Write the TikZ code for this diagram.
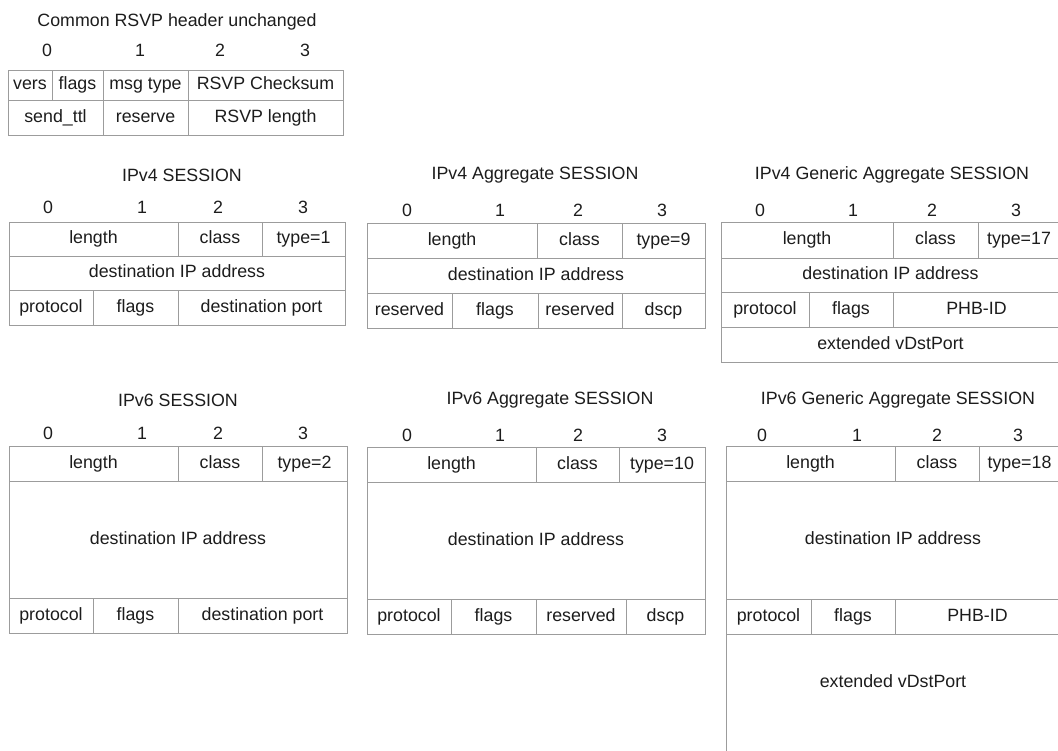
\documentclass[tikz,border=0pt]{standalone}
\usepackage{fontspec}
\setmainfont{Liberation Sans}
\begin{document}
\begin{tikzpicture}[x=1pt,y=-1pt,
  cellbox/.style={draw=linegray, line width=0.9pt, inner sep=0pt, outer sep=0pt, text=txt, font=\fontsize{17.8}{20}\selectfont, text height=12.8pt, text depth=3.8pt},
  lbl/.style={inner sep=0pt, text=txt, font=\fontsize{17.8}{20}\selectfont, text height=12.8pt, text depth=3.8pt}]
\definecolor{linegray}{HTML}{9C9C9C}
\definecolor{txt}{HTML}{1C1C1C}
\useasboundingbox (0,0) rectangle (1058,750);
\clip (0,0) rectangle (1058,750);
\newcommand\cell[6]{\node[cellbox, minimum width={(#4-#2)*1pt}, minimum height={(#5-#3)*1pt}] (#1) at ({(#2+#4)/2},{(#3+#5)/2}) {#6};}
\newcommand\digits[6]{%
  \node[lbl] (#1d0) at (#2,#6) {0};
  \node[lbl] (#1d1) at (#3,#6) {1};
  \node[lbl] (#1d2) at (#4,#6) {2};
  \node[lbl] (#1d3) at (#5,#6) {3};}
% ---------- Common RSVP header ----------
\node[lbl] (htitle) at (177,22) {Common RSVP header unchanged};
\digits{h}{47}{140}{220}{305}{52}
\cell{hvers}{8}{70}{52}{100}{vers}
\cell{hflags}{52}{70}{103}{100}{flags}
\cell{hmsg}{103}{70}{188}{100}{msg type}
\cell{hck}{188}{70}{343}{100}{RSVP Checksum}
\cell{httl}{8}{100}{103}{135}{send\_ttl}
\cell{hres}{103}{100}{188}{135}{reserve}
\cell{hlen}{188}{100}{343}{135}{RSVP length}
% ---------- IPv4 SESSION ----------
\node[lbl] (atitle) at (182,177) {IPv4 SESSION};
\digits{a}{48}{142}{218}{303}{209}
\cell{alen}{9}{222}{178}{256}{length}
\cell{acls}{178}{222}{262}{256}{class}
\cell{atyp}{262}{222}{345}{256}{type=1}
\cell{adst}{9}{256}{345}{290}{destination IP address}
\cell{aprt}{9}{290}{93}{325}{protocol}
\cell{aflg}{93}{290}{178}{325}{flags}
\cell{aport}{178}{290}{345}{325}{destination port}
% ---------- IPv4 Aggregate SESSION ----------
\node[lbl] (btitle) at (535,175) {IPv4 Aggregate SESSION};
\digits{b}{407}{500}{578}{662}{212}
\cell{blen}{367}{223}{537}{258}{length}
\cell{bcls}{537}{223}{622}{258}{class}
\cell{btyp}{622}{223}{705}{258}{type=9}
\cell{bdst}{367}{258}{705}{293}{destination IP address}
\cell{bres1}{367}{293}{452}{328}{reserved}
\cell{bflg}{452}{293}{538}{328}{flags}
\cell{bres2}{538}{293}{622}{328}{reserved}
\cell{bdscp}{622}{293}{705}{328}{dscp}
% ---------- IPv4 Generic Aggregate SESSION ----------
\node[lbl] (ctitle) at (892,175) {IPv4 Generic Aggregate SESSION};
\digits{c}{760}{853}{932}{1016}{212}
\cell{clen}{721}{222}{893}{258}{length}
\cell{ccls}{893}{222}{978}{258}{class}
\cell{ctyp}{978}{222}{1060}{258}{type=17}
\cell{cdst}{721}{258}{1060}{292}{destination IP address}
\cell{cprt}{721}{292}{809}{327}{protocol}
\cell{cflg}{809}{292}{893}{327}{flags}
\cell{cphb}{893}{292}{1060}{327}{PHB-ID}
\cell{cext}{721}{327}{1060}{362}{extended vDstPort}
% ---------- IPv6 SESSION ----------
\node[lbl] (dtitle) at (178,402) {IPv6 SESSION};
\digits{d}{48}{142}{218}{303}{435}
\cell{dlen}{9}{446}{178}{481}{length}
\cell{dcls}{178}{446}{262}{481}{class}
\cell{dtyp}{262}{446}{347}{481}{type=2}
\cell{ddst}{9}{481}{347}{598}{destination IP address}
\cell{dprt}{9}{598}{93}{633}{protocol}
\cell{dflg}{93}{598}{178}{633}{flags}
\cell{dport}{178}{598}{347}{633}{destination port}
% ---------- IPv6 Aggregate SESSION ----------
\node[lbl] (etitle) at (550,400) {IPv6 Aggregate SESSION};
\digits{e}{407}{500}{578}{662}{437}
\cell{elen}{367}{447}{536}{482}{length}
\cell{ecls}{536}{447}{619}{482}{class}
\cell{etyp}{619}{447}{705}{482}{type=10}
\cell{edst}{367}{482}{705}{599}{destination IP address}
\cell{eprt}{367}{599}{451}{634}{protocol}
\cell{eflg}{451}{599}{536}{634}{flags}
\cell{eres}{536}{599}{626}{634}{reserved}
\cell{edscp}{626}{599}{705}{634}{dscp}
% ---------- IPv6 Generic Aggregate SESSION ----------
\node[lbl] (ftitle) at (898,400) {IPv6 Generic Aggregate SESSION};
\digits{f}{762}{857}{937}{1018}{437}
\cell{flen}{726}{446}{895}{481}{length}
\cell{fcls}{895}{446}{979}{481}{class}
\cell{ftyp}{979}{446}{1060}{481}{type=18}
\cell{fdst}{726}{481}{1060}{599}{destination IP address}
\cell{fprt}{726}{599}{811}{634}{protocol}
\cell{fflg}{811}{599}{895}{634}{flags}
\cell{fphb}{895}{599}{1060}{634}{PHB-ID}
\cell{fext}{726}{634}{1060}{760}{}
\node[lbl] (fextl) at (893,683) {extended vDstPort};
\end{tikzpicture}
\end{document}
